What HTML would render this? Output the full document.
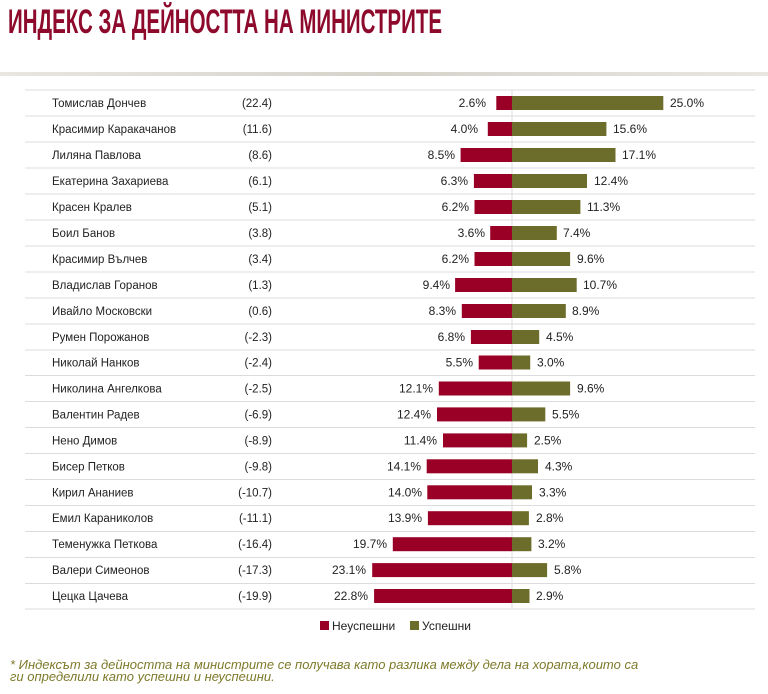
<!DOCTYPE html>
<html><head><meta charset="utf-8"><style>
html,body{margin:0;padding:0;background:#fff;}
svg{display:block;font-family:"Liberation Sans",sans-serif;}
.n{font-size:11.5px;fill:#222;}
.v{font-size:12px;fill:#222;}
.r{fill:#9a0026;}
.g{fill:#6d6d2b;}
</style></head><body>
<svg width="768" height="694" viewBox="0 0 768 694">
<defs><linearGradient id="gl" x1="0" x2="1"><stop offset="0" stop-color="#e8e6e0"/><stop offset="0.5" stop-color="#d6d3cb"/><stop offset="1" stop-color="#e8e6e0"/></linearGradient></defs>
<text x="8" y="33" font-size="34" font-weight="bold" fill="#8e0a2c" textLength="434" lengthAdjust="spacingAndGlyphs">ИНДЕКС ЗА ДЕЙНОСТТА НА МИНИСТРИТЕ</text>
<rect x="0" y="72" width="768" height="4" fill="url(#gl)"/>
<g stroke="#dcdcdc" stroke-width="1">
<line x1="25" x2="755" y1="90" y2="90"/><line x1="25" x2="755" y1="116" y2="116"/><line x1="25" x2="755" y1="142" y2="142"/><line x1="25" x2="755" y1="168" y2="168"/><line x1="25" x2="755" y1="194" y2="194"/><line x1="25" x2="755" y1="220" y2="220"/><line x1="25" x2="755" y1="246" y2="246"/><line x1="25" x2="755" y1="272" y2="272"/><line x1="25" x2="755" y1="298" y2="298"/><line x1="25" x2="755" y1="324" y2="324"/><line x1="25" x2="755" y1="350" y2="350"/><line x1="25" x2="755" y1="375.5" y2="375.5"/><line x1="25" x2="755" y1="401.5" y2="401.5"/><line x1="25" x2="755" y1="427.5" y2="427.5"/><line x1="25" x2="755" y1="453.5" y2="453.5"/><line x1="25" x2="755" y1="479.5" y2="479.5"/><line x1="25" x2="755" y1="505.5" y2="505.5"/><line x1="25" x2="755" y1="531.5" y2="531.5"/><line x1="25" x2="755" y1="557.5" y2="557.5"/><line x1="25" x2="755" y1="583.5" y2="583.5"/><line x1="25" x2="755" y1="609" y2="609"/>
<line x1="512" x2="512" y1="90" y2="609"/>
</g>
<g transform="translate(0,103)"><text class="n" x="52" y="4">Томислав Дончев</text><text class="n" x="272" y="4" text-anchor="end">(22.4)</text><rect class="r" x="496.3" y="-7" width="15.7" height="14"/><rect class="g" x="512" y="-7" width="151.3" height="14"/><text class="v" x="486" y="4" text-anchor="end">2.6%</text><text class="v" x="670" y="4">25.0%</text></g>
<g transform="translate(0,129)"><text class="n" x="52" y="4">Красимир Каракачанов</text><text class="n" x="272" y="4" text-anchor="end">(11.6)</text><rect class="r" x="487.8" y="-7" width="24.2" height="14"/><rect class="g" x="512" y="-7" width="94.4" height="14"/><text class="v" x="478" y="4" text-anchor="end">4.0%</text><text class="v" x="613" y="4">15.6%</text></g>
<g transform="translate(0,155)"><text class="n" x="52" y="4">Лиляна Павлова</text><text class="n" x="272" y="4" text-anchor="end">(8.6)</text><rect class="r" x="460.6" y="-7" width="51.4" height="14"/><rect class="g" x="512" y="-7" width="103.5" height="14"/><text class="v" x="455" y="4" text-anchor="end">8.5%</text><text class="v" x="622" y="4">17.1%</text></g>
<g transform="translate(0,181)"><text class="n" x="52" y="4">Екатерина Захариева</text><text class="n" x="272" y="4" text-anchor="end">(6.1)</text><rect class="r" x="473.9" y="-7" width="38.1" height="14"/><rect class="g" x="512" y="-7" width="75" height="14"/><text class="v" x="468" y="4" text-anchor="end">6.3%</text><text class="v" x="594" y="4">12.4%</text></g>
<g transform="translate(0,207)"><text class="n" x="52" y="4">Красен Кралев</text><text class="n" x="272" y="4" text-anchor="end">(5.1)</text><rect class="r" x="474.5" y="-7" width="37.5" height="14"/><rect class="g" x="512" y="-7" width="68.4" height="14"/><text class="v" x="469" y="4" text-anchor="end">6.2%</text><text class="v" x="587" y="4">11.3%</text></g>
<g transform="translate(0,233)"><text class="n" x="52" y="4">Боил Банов</text><text class="n" x="272" y="4" text-anchor="end">(3.8)</text><rect class="r" x="490.2" y="-7" width="21.8" height="14"/><rect class="g" x="512" y="-7" width="44.8" height="14"/><text class="v" x="485" y="4" text-anchor="end">3.6%</text><text class="v" x="563" y="4">7.4%</text></g>
<g transform="translate(0,259)"><text class="n" x="52" y="4">Красимир Вълчев</text><text class="n" x="272" y="4" text-anchor="end">(3.4)</text><rect class="r" x="474.5" y="-7" width="37.5" height="14"/><rect class="g" x="512" y="-7" width="58.1" height="14"/><text class="v" x="469" y="4" text-anchor="end">6.2%</text><text class="v" x="577" y="4">9.6%</text></g>
<g transform="translate(0,285)"><text class="n" x="52" y="4">Владислав Горанов</text><text class="n" x="272" y="4" text-anchor="end">(1.3)</text><rect class="r" x="455.1" y="-7" width="56.9" height="14"/><rect class="g" x="512" y="-7" width="64.7" height="14"/><text class="v" x="450" y="4" text-anchor="end">9.4%</text><text class="v" x="583" y="4">10.7%</text></g>
<g transform="translate(0,311)"><text class="n" x="52" y="4">Ивайло Московски</text><text class="n" x="272" y="4" text-anchor="end">(0.6)</text><rect class="r" x="461.8" y="-7" width="50.2" height="14"/><rect class="g" x="512" y="-7" width="53.8" height="14"/><text class="v" x="456" y="4" text-anchor="end">8.3%</text><text class="v" x="572" y="4">8.9%</text></g>
<g transform="translate(0,337)"><text class="n" x="52" y="4">Румен Порожанов</text><text class="n" x="272" y="4" text-anchor="end">(-2.3)</text><rect class="r" x="470.9" y="-7" width="41.1" height="14"/><rect class="g" x="512" y="-7" width="27.2" height="14"/><text class="v" x="465" y="4" text-anchor="end">6.8%</text><text class="v" x="546" y="4">4.5%</text></g>
<g transform="translate(0,362.5)"><text class="n" x="52" y="4">Николай Нанков</text><text class="n" x="272" y="4" text-anchor="end">(-2.4)</text><rect class="r" x="478.7" y="-7" width="33.3" height="14"/><rect class="g" x="512" y="-7" width="18.2" height="14"/><text class="v" x="473" y="4" text-anchor="end">5.5%</text><text class="v" x="537" y="4">3.0%</text></g>
<g transform="translate(0,388.5)"><text class="n" x="52" y="4">Николина Ангелкова</text><text class="n" x="272" y="4" text-anchor="end">(-2.5)</text><rect class="r" x="438.8" y="-7" width="73.2" height="14"/><rect class="g" x="512" y="-7" width="58.1" height="14"/><text class="v" x="433" y="4" text-anchor="end">12.1%</text><text class="v" x="577" y="4">9.6%</text></g>
<g transform="translate(0,414.4)"><text class="n" x="52" y="4">Валентин Радев</text><text class="n" x="272" y="4" text-anchor="end">(-6.9)</text><rect class="r" x="437" y="-7" width="75" height="14"/><rect class="g" x="512" y="-7" width="33.3" height="14"/><text class="v" x="431" y="4" text-anchor="end">12.4%</text><text class="v" x="552" y="4">5.5%</text></g>
<g transform="translate(0,440.4)"><text class="n" x="52" y="4">Нено Димов</text><text class="n" x="272" y="4" text-anchor="end">(-8.9)</text><rect class="r" x="443" y="-7" width="69" height="14"/><rect class="g" x="512" y="-7" width="15.1" height="14"/><text class="v" x="437" y="4" text-anchor="end">11.4%</text><text class="v" x="534" y="4">2.5%</text></g>
<g transform="translate(0,466.3)"><text class="n" x="52" y="4">Бисер Петков</text><text class="n" x="272" y="4" text-anchor="end">(-9.8)</text><rect class="r" x="426.7" y="-7" width="85.3" height="14"/><rect class="g" x="512" y="-7" width="26" height="14"/><text class="v" x="421" y="4" text-anchor="end">14.1%</text><text class="v" x="545" y="4">4.3%</text></g>
<g transform="translate(0,492.3)"><text class="n" x="52" y="4">Кирил Ананиев</text><text class="n" x="272" y="4" text-anchor="end">(-10.7)</text><rect class="r" x="427.3" y="-7" width="84.7" height="14"/><rect class="g" x="512" y="-7" width="20" height="14"/><text class="v" x="422" y="4" text-anchor="end">14.0%</text><text class="v" x="539" y="4">3.3%</text></g>
<g transform="translate(0,518.2)"><text class="n" x="52" y="4">Емил Караниколов</text><text class="n" x="272" y="4" text-anchor="end">(-11.1)</text><rect class="r" x="427.9" y="-7" width="84.1" height="14"/><rect class="g" x="512" y="-7" width="16.9" height="14"/><text class="v" x="422" y="4" text-anchor="end">13.9%</text><text class="v" x="536" y="4">2.8%</text></g>
<g transform="translate(0,544.2)"><text class="n" x="52" y="4">Теменужка Петкова</text><text class="n" x="272" y="4" text-anchor="end">(-16.4)</text><rect class="r" x="392.8" y="-7" width="119.2" height="14"/><rect class="g" x="512" y="-7" width="19.4" height="14"/><text class="v" x="387" y="4" text-anchor="end">19.7%</text><text class="v" x="538" y="4">3.2%</text></g>
<g transform="translate(0,570.1)"><text class="n" x="52" y="4">Валери Симеонов</text><text class="n" x="272" y="4" text-anchor="end">(-17.3)</text><rect class="r" x="372.2" y="-7" width="139.8" height="14"/><rect class="g" x="512" y="-7" width="35.1" height="14"/><text class="v" x="366" y="4" text-anchor="end">23.1%</text><text class="v" x="554" y="4">5.8%</text></g>
<g transform="translate(0,596)"><text class="n" x="52" y="4">Цецка Цачева</text><text class="n" x="272" y="4" text-anchor="end">(-19.9)</text><rect class="r" x="374.1" y="-7" width="137.9" height="14"/><rect class="g" x="512" y="-7" width="17.5" height="14"/><text class="v" x="368" y="4" text-anchor="end">22.8%</text><text class="v" x="536" y="4">2.9%</text></g>
<rect class="r" x="320" y="621" width="9" height="9"/><text class="v" x="332" y="630">Неуспешни</text>
<rect class="g" x="410" y="621" width="9" height="9"/><text class="v" x="422" y="630">Успешни</text>
<text x="10" y="669" font-size="13" font-style="italic" fill="#7d7a2a">* Индексът за дейността на министрите се получава като разлика между дела на хората,които са</text>
<text x="10" y="681" font-size="13" font-style="italic" fill="#7d7a2a">ги определили като успешни и неуспешни.</text>
</svg>
</body></html>
